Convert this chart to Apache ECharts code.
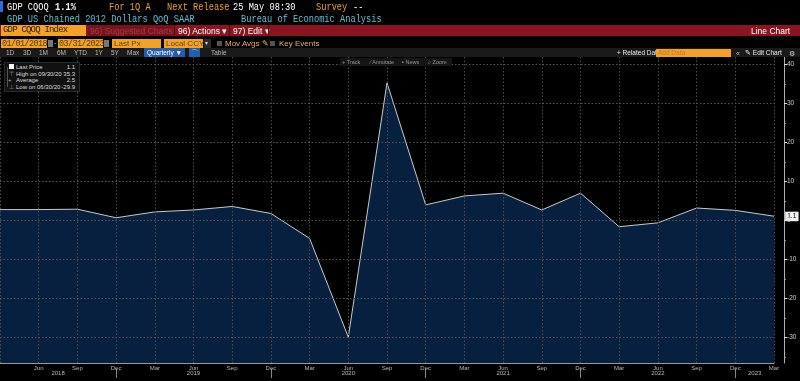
<!DOCTYPE html>
<html><head><meta charset="utf-8">
<script src="https://cdn.jsdelivr.net/npm/echarts@6/dist/echarts.min.js"></script>
<style>
html,body{margin:0;padding:0;background:#000;width:800px;height:381px;overflow:hidden;}
#chart{position:absolute;left:0;top:0;width:800px;height:381px;}
.t{position:absolute;white-space:nowrap;line-height:1;}
.m{font-family:"Liberation Mono","DejaVu Sans Mono",monospace;letter-spacing:-0.8px;}
.h{font-family:"Liberation Mono","DejaVu Sans Mono",monospace;font-size:11.5px;transform:scaleX(0.755);transform-origin:0 0;}
.s{font-family:"Liberation Sans Narrow","Liberation Sans",Roboto,sans-serif;}
.box{position:absolute;}
</style></head><body>
<div id="chart"></div>
<div id="ui">
  <!-- row 1 -->
  <div class="box" style="left:0;top:1px;width:3px;height:11px;background:#2d6fd8"></div>
  <div class="t h" style="left:7px;top:1px;color:#fff">GDP CQOQ</div>
  <div class="t h" style="left:55px;top:1px;color:#fff;font-weight:bold">1.1%</div>
  <div class="t h" style="left:109px;top:1px;color:#f0a030">For 1Q A</div>
  <div class="t h" style="left:167px;top:1px;color:#f0a030">Next Release</div>
  <div class="t h" style="left:233px;top:1px;color:#fff">25 May 08:30</div>
  <div class="t h" style="left:316px;top:1px;color:#f0a030">Survey</div>
  <div class="t h" style="left:353px;top:1px;color:#fff">--</div>
  <!-- row 2 -->
  <div class="t h" style="left:7px;top:13px;color:#5cc3d8">GDP US Chained 2012 Dollars QoQ SAAR</div>
  <div class="t h" style="left:241px;top:13px;color:#5cc3d8">Bureau of Economic Analysis</div>
  <!-- row 3 -->
  <div class="box" style="left:0;top:25px;width:800px;height:11px;background:#8a1520"></div>
  <div class="box" style="left:1px;top:25px;width:85px;height:11px;background:#f3a226"></div>
  <div class="t m" style="left:3px;top:26px;font-size:9px;color:#2a1800">GDP CQOQ Index</div>
  <div class="box" style="left:88px;top:25px;width:85px;height:11px;background:#7a111b"></div>
  <div class="t s" style="left:90px;top:27px;font-size:8.5px;color:#a04048">96) Suggested Charts</div>
  <div class="box" style="left:174px;top:25px;width:1px;height:11px;background:#4a0a10"></div>
  <div class="t s" style="left:178px;top:27px;font-size:8.5px;color:#fff">96) Actions ▾</div>
  <div class="box" style="left:229px;top:25px;width:1px;height:11px;background:#4a0a10"></div>
  <div class="t s" style="left:233px;top:27px;font-size:8.5px;color:#fff">97) Edit ▾</div>
  <div class="box" style="left:268px;top:25px;width:1px;height:11px;background:#4a0a10"></div>
  <div class="t s" style="left:751px;top:27px;font-size:8.5px;color:#fff">Line Chart</div>
  <!-- row 4 -->
  <div class="box" style="left:1px;top:39px;width:46px;height:9px;background:#f3a226"></div>
  <div class="t m" style="left:2px;top:39.5px;font-size:8.5px;color:#5a3a00;letter-spacing:-0.6px">01/01/2018</div>
  <div class="box" style="left:48px;top:40px;width:5px;height:7px;background:#777"></div>
  <div class="t s" style="left:54px;top:39px;font-size:8px;color:#ccc">-</div>
  <div class="box" style="left:58px;top:39px;width:45px;height:9px;background:#f3a226"></div>
  <div class="t m" style="left:59px;top:39.5px;font-size:8.5px;color:#5a3a00;letter-spacing:-0.6px">03/31/2023</div>
  <div class="box" style="left:104px;top:40px;width:5px;height:7px;background:#777"></div>
  <div class="box" style="left:112px;top:39px;width:49px;height:9px;background:#f3a226"></div>
  <div class="t s" style="left:114px;top:39.5px;font-size:8px;color:#6a4200">Last Px</div>
  <div class="box" style="left:164px;top:39px;width:39px;height:9px;background:#f3a226"></div>
  <div class="t s" style="left:166px;top:39.5px;font-size:8px;color:#6a4200">Local CCY</div>
  <div class="box" style="left:204px;top:39px;width:7px;height:9px;background:#2a2a2a"></div>
  <div class="t s" style="left:205px;top:40px;font-size:6px;color:#ccc">▾</div>
  <div class="box" style="left:217px;top:41px;width:5px;height:5px;background:#555"></div>
  <div class="t s" style="left:225px;top:39.5px;font-size:8px;color:#e8b066">Mov Avgs ✎</div>
  <div class="box" style="left:270px;top:41px;width:5px;height:5px;background:#555"></div>
  <div class="t s" style="left:279px;top:39.5px;font-size:8px;color:#e8b066">Key Events</div>
  <!-- row 5 -->
  <div class="box" style="left:0;top:48px;width:800px;height:9px;background:#1a1a1a"></div>
  <div class="t s" style="left:6px;top:50px;font-size:6.5px;color:#bbb">1D</div>
  <div class="t s" style="left:23px;top:50px;font-size:6.5px;color:#bbb">3D</div>
  <div class="t s" style="left:39px;top:50px;font-size:6.5px;color:#bbb">1M</div>
  <div class="t s" style="left:57px;top:50px;font-size:6.5px;color:#bbb">6M</div>
  <div class="t s" style="left:74px;top:50px;font-size:6.5px;color:#bbb">YTD</div>
  <div class="t s" style="left:95px;top:50px;font-size:6.5px;color:#bbb">1Y</div>
  <div class="t s" style="left:111px;top:50px;font-size:6.5px;color:#bbb">5Y</div>
  <div class="t s" style="left:127px;top:50px;font-size:6.5px;color:#bbb">Max</div>
  <div class="box" style="left:144px;top:48px;width:41px;height:9px;background:#1f5eb0"></div>
  <div class="t s" style="left:147px;top:50px;font-size:6.5px;color:#fff">Quarterly ▼</div>
  <div class="box" style="left:189px;top:48px;width:11px;height:9px;background:#1f5eb0"></div>
  <div class="t s" style="left:191px;top:49.5px;font-size:6.5px;color:#9cf">⌒</div>
  <div class="t s" style="left:211px;top:50px;font-size:6.5px;color:#bbb">Table</div>
  <div class="t s" style="left:617px;top:50px;font-size:6.5px;color:#eee">+ Related Dat</div>
  <div class="box" style="left:656px;top:48.5px;width:75px;height:8px;background:#f3a226"></div>
  <div class="t s" style="left:658px;top:50px;font-size:6.5px;color:#c47d10">Add Data</div>
  <div class="t s" style="left:736px;top:49.5px;font-size:7px;color:#bbb">«</div>
  <div class="t s" style="left:745px;top:50px;font-size:6.5px;color:#eee">✎ Edit Chart</div>
  <div class="t s" style="left:789px;top:49.5px;font-size:7px;color:#ccc">⚙</div>
  <!-- chart toolbar -->
  <div class="box" style="left:340px;top:58px;width:112px;height:8px;background:#151515"></div>
  <div class="t s" style="left:342px;top:59.5px;font-size:5.5px;color:#999">+ Track</div>
  <div class="t s" style="left:370px;top:59.5px;font-size:5.5px;color:#999">⁄ Annotate</div>
  <div class="t s" style="left:402px;top:59.5px;font-size:5.5px;color:#999">▪ News</div>
  <div class="t s" style="left:428px;top:59.5px;font-size:5.5px;color:#999">⌕ Zoom</div>
  <!-- legend -->
  <div class="box" style="left:4px;top:62px;width:74px;height:28px;background:#111;border:1px solid #2a2a2a"></div>
  <div class="box" style="left:7px;top:67px;width:1px;height:20px;background:#555"></div>
  <div class="box" style="left:9px;top:64px;width:5px;height:5px;background:#fff"></div>
  <div class="t s" style="left:16px;top:64px;font-size:6px;color:#ddd">Last Price</div>
  <div class="t s" id="lgLast" style="right:725px;top:64px;font-size:6px;color:#ddd"></div>
  <div class="t s" style="left:9px;top:70.5px;font-size:6px;color:#aaa">⊤</div>
  <div class="t s" id="lgHighT" style="left:16px;top:70.5px;font-size:6px;color:#ddd"></div>
  <div class="t s" id="lgHigh" style="right:725px;top:70.5px;font-size:6px;color:#ddd"></div>
  <div class="t s" style="left:8px;top:77px;font-size:6px;color:#aaa">+</div>
  <div class="t s" style="left:16px;top:77px;font-size:6px;color:#ddd">Average</div>
  <div class="t s" id="lgAvg" style="right:725px;top:77px;font-size:6px;color:#ddd"></div>
  <div class="t s" style="left:9px;top:83.5px;font-size:6px;color:#aaa">⊥</div>
  <div class="t s" id="lgLowT" style="left:16px;top:83.5px;font-size:6px;color:#ddd"></div>
  <div class="t s" id="lgLow" style="right:725px;top:83.5px;font-size:6px;color:#ddd"></div>
</div>
<script>
const quarterEnds = ['2018-03-31','2018-06-30','2018-09-30','2018-12-31','2019-03-31','2019-06-30','2019-09-30','2019-12-31','2020-03-31','2020-06-30','2020-09-30','2020-12-31','2021-03-31','2021-06-30','2021-09-30','2021-12-31','2022-03-31','2022-06-30','2022-09-30','2022-12-31','2023-03-31'];
const gdpQoQ = [2.8,2.8,2.9,0.7,2.2,2.7,3.6,1.8,-4.6,-29.9,35.3,4.0,6.3,7.0,2.7,7.0,-1.6,-0.6,3.2,2.6,1.1];
const monthNames = {'03':'Mar','06':'Jun','09':'Sep','12':'Dec'};
const yTicks = [-30,-20,-10,0,10,20,30,40];
const yMinorTicks = [-35,-25,-15,-5,5,15,25,35];
const yMin = -36.538, yMax = 41.923;

const n = gdpQoQ.length;
const years = [...new Set(quarterEnds.map(d => d.slice(0,4)))];
const decIdx = quarterEnds.map((d,i) => d.slice(5,7) === '12' ? i : -1).filter(i => i >= 0);
const yearCenters = years.map(y => {
  const idx = quarterEnds.map((d,i) => d.startsWith(y) ? i : -1).filter(i => i >= 0);
  return (Math.max(0, idx[0] - 1) + idx[idx.length - 1]) / 2;
});
const fmtDate = d => d.slice(5,7) + '/' + d.slice(8,10) + '/' + d.slice(2,4);
const last = gdpQoQ[n-1];
const hiV = Math.max(...gdpQoQ), loV = Math.min(...gdpQoQ);
const hiD = quarterEnds[gdpQoQ.indexOf(hiV)], loD = quarterEnds[gdpQoQ.indexOf(loV)];
const avg = gdpQoQ.reduce((a,b) => a+b, 0) / n;
document.getElementById('lgLast').textContent = last.toFixed(1);
document.getElementById('lgHighT').textContent = 'High on ' + fmtDate(hiD);
document.getElementById('lgHigh').textContent = hiV.toFixed(1);
document.getElementById('lgAvg').textContent = avg.toFixed(1);
document.getElementById('lgLowT').textContent = 'Low on ' + fmtDate(loD);
document.getElementById('lgLow').textContent = loV.toFixed(1);

const gridLine = {color: '#4d4d4d', type: [1.5, 2], width: 1};
const lblFont = 'Liberation Sans Narrow, Liberation Sans, sans-serif';
const chart = echarts.init(document.getElementById('chart'), null, {renderer: 'canvas'});
chart.setOption({
  backgroundColor: '#000',
  animation: false,
  grid: {left: 0, right: 26, top: 57, bottom: 18, containLabel: false, outerBoundsMode: 'none'},
  xAxis: [{
    type: 'category', data: quarterEnds, boundaryGap: false, z: 5,
    axisLine: {onZero: false, lineStyle: {color: '#9a9a9a', width: 1}},
    axisTick: {show: false},
    splitLine: {show: true, interval: 0, lineStyle: gridLine},
    axisLabel: {
      interval: 0, margin: 2, fontSize: 6, color: '#b8b8b8', fontFamily: lblFont,
      formatter: (v, i) => i === 0 ? '' : monthNames[v.slice(5,7)]
    }
  }, {
    type: 'value', min: 0, max: n - 1, position: 'bottom', offset: 6,
    axisLine: {show: false, onZero: false},
    axisTick: {show: true, customValues: decIdx, length: 9, lineStyle: {color: '#8a8a8a'}},
    splitLine: {show: false},
    axisLabel: {
      customValues: yearCenters, margin: 1, fontSize: 6, color: '#b8b8b8', fontFamily: lblFont,
      formatter: v => { const k = yearCenters.findIndex(c => Math.abs(c - v) < 1e-6); return k >= 0 ? years[k] : ''; }
    }
  }],
  yAxis: [{
    type: 'value', position: 'right', offset: 10, min: yMin, max: yMax, z: 5,
    axisLine: {show: true, onZero: false, lineStyle: {color: '#b0b0b0', width: 1}},
    axisTick: {show: true, customValues: yTicks, length: 3, lineStyle: {color: '#ddd'}},
    splitLine: {show: false},
    axisLabel: {customValues: yTicks, margin: 3, fontSize: 6.5, color: '#cfcfcf', fontFamily: lblFont}
  }, {
    type: 'value', position: 'right', offset: 10, min: yMin, max: yMax,
    axisLine: {show: false, onZero: false},
    axisTick: {show: true, customValues: yMinorTicks, length: 2, lineStyle: {color: '#888'}},
    splitLine: {show: false},
    axisLabel: {show: false}
  }],
  series: [{
    type: 'line', data: gdpQoQ, xAxisIndex: 0, yAxisIndex: 0,
    symbol: 'none', smooth: false,
    lineStyle: {color: '#c9c9c9', width: 1},
    areaStyle: {color: '#08203f', opacity: 1, origin: 'start'},
    markLine: {
      silent: true, symbol: ['none', 'none'], animation: false,
      label: {show: false}, emphasis: {disabled: true},
      lineStyle: {color: '#555', type: [1.5, 2], width: 1},
      data: yTicks.map(v => ({yAxis: v}))
    },
    z: 2
  }]
});
const py = chart.convertToPixel({yAxisIndex: 0}, last);
chart.setOption({
  graphic: [{
    type: 'group', left: 785, top: py - 4.5, z: 100,
    children: [
      {type: 'rect', shape: {x: 0, y: 0, width: 13, height: 9}, style: {fill: '#f2f2f2', stroke: '#fff', lineWidth: 0.5}},
      {type: 'text', style: {x: 6.5, y: 4.5, text: last.toFixed(1), fill: '#000', font: '6.5px "Liberation Sans Narrow", "Liberation Sans", sans-serif', align: 'center', verticalAlign: 'middle'}}
    ]
  }]
});
</script>
</body></html>
